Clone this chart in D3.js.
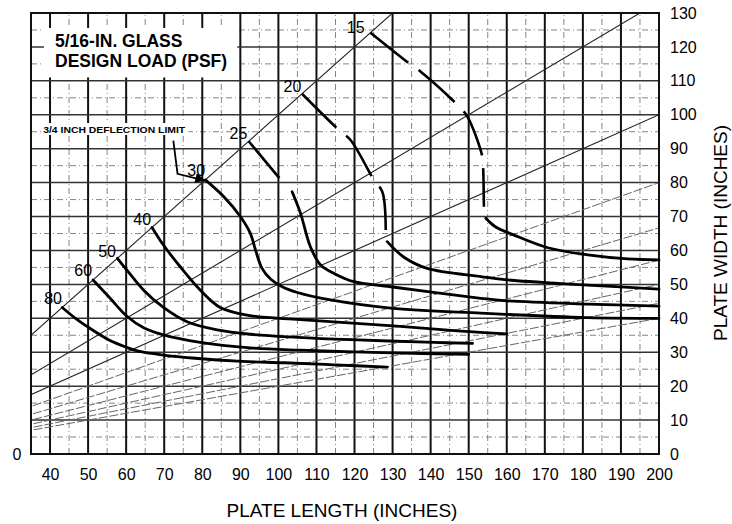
<!DOCTYPE html>
<html>
<head>
<meta charset="utf-8">
<script src="https://cdn.jsdelivr.net/npm/d3@7"></script>
<style>
  body { margin: 0; background: #fff; }
  svg { display: block; font-family: "Liberation Sans", Arial, Helvetica, sans-serif; }
</style>
</head>
<body>
<svg id="chart" width="732" height="524"></svg>
<script>
// plate length / width ticks
const xTicks = d3.range(40, 201, 10);
const yTicks = d3.range(0, 131, 10);
// aspect ratio lines (length / width)
const ratios = [1, 1.5, 2, 2.5, 3, 3.5, 4, 4.5, 5];

// design load curves, [length, width] in inches
const loads = [80, 60, 50, 40, 30, 25, 20, 15];
const load80 = [[43.2, 43.2], [47.5, 39.3], [51.8, 36.1], [55.5, 33.6], [59.7, 31.6], [63.2, 30.3], [70.3, 29.1], [77.3, 28.3], [90.4, 27.3], [101.4, 26.9], [114.6, 26.3], [128.6, 25.6]];
const load60 = [[51.3, 51.3], [55.8, 45.9], [60.2, 40.6], [64.6, 37.2], [69.8, 35.1], [79.5, 32.9], [92.6, 31.3], [105.8, 30.6], [130, 29.8], [150, 29.4]];
const load50 = [[57.7, 57.7], [60.2, 54.2], [64.6, 48.3], [69.8, 43.2], [76, 39], [83.9, 36.6], [92.6, 35.3], [105, 34.4], [118.9, 33.7], [140.9, 32.9], [151, 32.6]];
const load40 = [[66.8, 66.8], [69.8, 61.6], [74.2, 55.2], [79.5, 48.3], [84.7, 43.2], [92.6, 40.8], [105.8, 39.6], [132, 37.6], [147.9, 36.2], [160, 35.4]];
const load30 = [[80.8, 80.8], [85.6, 75.9], [90, 70], [92.6, 65.1], [94, 60.1], [95.7, 54.7], [98, 51.5], [101, 49.3], [105, 47.6], [113.7, 45.4], [129.5, 43], [153.2, 41.5], [181.2, 40.2], [200, 40]];
const load25 = [[103.6, 77.3], [105.8, 71], [108.4, 61.1], [111.1, 55.7], [115, 53], [119.8, 50.8], [129.5, 49.3], [153.2, 45.9], [159.3, 45.2], [181.2, 44.2], [200, 43.6]];
const load20 = [[128.6, 62.6], [133, 58], [139.1, 54.7], [153.2, 52.3], [160.2, 51.3], [181.2, 49.8], [200, 48.6]];
const load15 = [[154.5, 69.5], [157, 67], [161.8, 64.6], [170.8, 60.8], [181.3, 58.7], [191.8, 57.5], [200, 57.2]];
// parts beyond the 3/4 inch deflection limit (dashed)
const beyond25 = [[92.2, 92.2], [101, 80.3]];
const beyond20 = [[106.2, 106.2], [115.9, 95.5], [119, 92.5], [125.1, 80.8], [127.3, 77.3], [128.2, 66]];
const beyond15 = [[124.2, 124.2], [134.3, 115.2], [137.4, 112.7], [147.5, 102.4], [149.7, 99.4], [153.6, 87.6], [153.8, 84.2], [154, 72.9]];
// label anchor for each load curve
const labelAt = [[40.8, 46], [48.7, 54], [55, 59.8], [64.2, 69.3], [78.4, 83.7], [89.5, 94.6], [103.7, 108.5], [120.3, 125.9]];
// leader from the deflection note to the 30 psf curve
const leader = [[72.4, 92.4], [73.5, 82.6], [80.8, 80.6]];

const svg = d3.select('#chart');
const xs = d3.scaleLinear().domain([35, 200]).range([31, 659]);
const ys = d3.scaleLinear().domain([0, 130]).range([454, 13]);

svg.append('rect').attr('width', 732).attr('height', 524).attr('fill', '#fff');

svg.append('defs').append('clipPath').attr('id', 'plot-clip')
  .append('rect')
  .attr('x', xs(35)).attr('y', ys(130))
  .attr('width', xs(200) - xs(35)).attr('height', ys(0) - ys(130));

let grid = svg.append('g');

// minor grid, every 5 in
grid.selectAll('.vminor')
  .data(d3.range(45, 200, 10))
  .enter().append('line')
  .attr('x1', d => xs(d)).attr('x2', d => xs(d))
  .attr('y1', ys(0)).attr('y2', ys(130))
  .attr('stroke', '#777').attr('stroke-width', 0.9)
  .attr('stroke-dasharray', '6,3,1,3');

grid.selectAll('.hminor')
  .data(d3.range(5, 130, 10))
  .enter().append('line')
  .attr('x1', xs(35)).attr('x2', xs(200))
  .attr('y1', d => ys(d)).attr('y2', d => ys(d))
  .attr('stroke', '#777').attr('stroke-width', 0.9)
  .attr('stroke-dasharray', '6,3,1,3');

// major grid, every 10 in
grid.selectAll('.vmajor')
  .data(d3.range(40, 200, 10))
  .enter().append('line')
  .attr('x1', d => xs(d)).attr('x2', d => xs(d))
  .attr('y1', ys(0)).attr('y2', ys(130))
  .attr('stroke', '#111').attr('stroke-width', 2);

grid.selectAll('.hmajor')
  .data(d3.range(10, 130, 10))
  .enter().append('line')
  .attr('x1', xs(35)).attr('x2', xs(200))
  .attr('y1', d => ys(d)).attr('y2', d => ys(d))
  .attr('stroke', '#333').attr('stroke-width', 1.5);

// ratio lines
svg.append('g')
  .attr('clip-path', 'url(#plot-clip)')
  .selectAll('line')
  .data(ratios)
  .enter().append('line')
  .attr('x1', xs(30)).attr('y1', d => ys(30 / d))
  .attr('x2', xs(200)).attr('y2', d => ys(200 / d))
  .attr('stroke', (d, i) => i < 3 ? '#222' : '#666')
  .attr('stroke-width', (d, i) => i < 3 ? 1.1 : 1)
  .attr('stroke-dasharray', (d, i) => i < 3 ? null : '9,2');

// title box
svg.append('rect')
  .attr('x', xs(38.4)).attr('y', ys(125.6))
  .attr('width', xs(89.2) - xs(38.4)).attr('height', ys(111) - ys(125.6))
  .attr('fill', '#fff');

svg.append('text')
  .attr('x', 55).attr('y', 47)
  .attr('font-size', 17.5).attr('font-weight', 'bold')
  .text('5/16-IN. GLASS');
svg.append('text')
  .attr('x', 55).attr('y', 67)
  .attr('font-size', 17.5).attr('font-weight', 'bold')
  .text('DESIGN LOAD (PSF)');

// frame
svg.append('rect')
  .attr('x', xs(35)).attr('y', ys(130))
  .attr('width', xs(200) - xs(35)).attr('height', ys(0) - ys(130))
  .attr('fill', 'none').attr('stroke', '#111').attr('stroke-width', 2);

// load curves
let line = d3.line()
  .x(d => xs(d[0]))
  .y(d => ys(d[1]))
  .curve(d3.curveCatmullRom.alpha(0.5));

let curves = svg.append('g').attr('fill', 'none').attr('stroke', '#000');

curves.selectAll('.beyond')
  .data([beyond25, beyond20, beyond15])
  .enter().append('path')
  .attr('d', line)
  .attr('stroke-width', 2.6)
  .attr('stroke-dasharray', '48,13');

curves.selectAll('.solid')
  .data([load80, load60, load50, load40, load30, load25, load20, load15])
  .enter().append('path')
  .attr('d', line)
  .attr('stroke-width', 2.8)
  .attr('stroke-linecap', 'round');

svg.append('g').selectAll('text')
  .data(loads)
  .enter().append('text')
  .attr('x', (d, i) => xs(labelAt[i][0]))
  .attr('y', (d, i) => ys(labelAt[i][1]))
  .attr('dy', '0.35em')
  .attr('text-anchor', 'middle')
  .attr('font-size', 16)
  .text(d => d);

// deflection note
svg.append('rect')
  .attr('x', xs(38)).attr('y', 123)
  .attr('width', 146).attr('height', 12)
  .attr('fill', '#fff');
svg.append('text')
  .attr('x', xs(38.2)).attr('y', 133)
  .attr('font-size', 9).attr('font-weight', 'bold')
  .attr('textLength', 142).attr('lengthAdjust', 'spacingAndGlyphs')
  .text('3/4 INCH DEFLECTION LIMIT');

svg.select('defs').append('marker')
  .attr('id', 'arrow')
  .attr('viewBox', '0 0 10 10')
  .attr('refX', 10).attr('refY', 5)
  .attr('markerWidth', 24).attr('markerHeight', 10)
  .attr('orient', 'auto')
  .attr('markerUnits', 'userSpaceOnUse')
  .append('path').attr('d', 'M0,0L10,5L0,10Z').attr('fill', '#000');

svg.append('path')
  .attr('d', d3.line().x(d => xs(d[0])).y(d => ys(d[1]))(leader))
  .attr('fill', 'none').attr('stroke', '#000').attr('stroke-width', 1.8)
  .attr('marker-end', 'url(#arrow)');

// axes
let xAxis = svg.append('g')
  .attr('transform', `translate(0,${ys(0)})`)
  .call(d3.axisBottom(xs).tickValues(xTicks).tickSize(0).tickPadding(14.5));
xAxis.select('.domain').remove();
xAxis.selectAll('text').attr('font-size', 16).attr('fill', '#000')
  .attr('font-family', '"Liberation Sans", Arial, sans-serif');

let yAxis = svg.append('g')
  .attr('transform', `translate(${xs(200)},0)`)
  .call(d3.axisRight(ys).tickValues(yTicks).tickSize(0).tickPadding(11));
yAxis.select('.domain').remove();
yAxis.selectAll('text').attr('font-size', 16).attr('fill', '#000')
  .attr('font-family', '"Liberation Sans", Arial, sans-serif');

svg.append('text')
  .attr('x', 17).attr('y', ys(0))
  .attr('dy', '0.35em').attr('text-anchor', 'middle')
  .attr('font-size', 16)
  .text('0');

svg.append('text')
  .attr('x', 342).attr('y', 517)
  .attr('text-anchor', 'middle')
  .attr('font-size', 19)
  .text('PLATE LENGTH (INCHES)');

svg.append('text')
  .attr('transform', 'translate(727,233) rotate(-90)')
  .attr('text-anchor', 'middle')
  .attr('font-size', 19)
  .text('PLATE WIDTH (INCHES)');
</script>
</body>
</html>
